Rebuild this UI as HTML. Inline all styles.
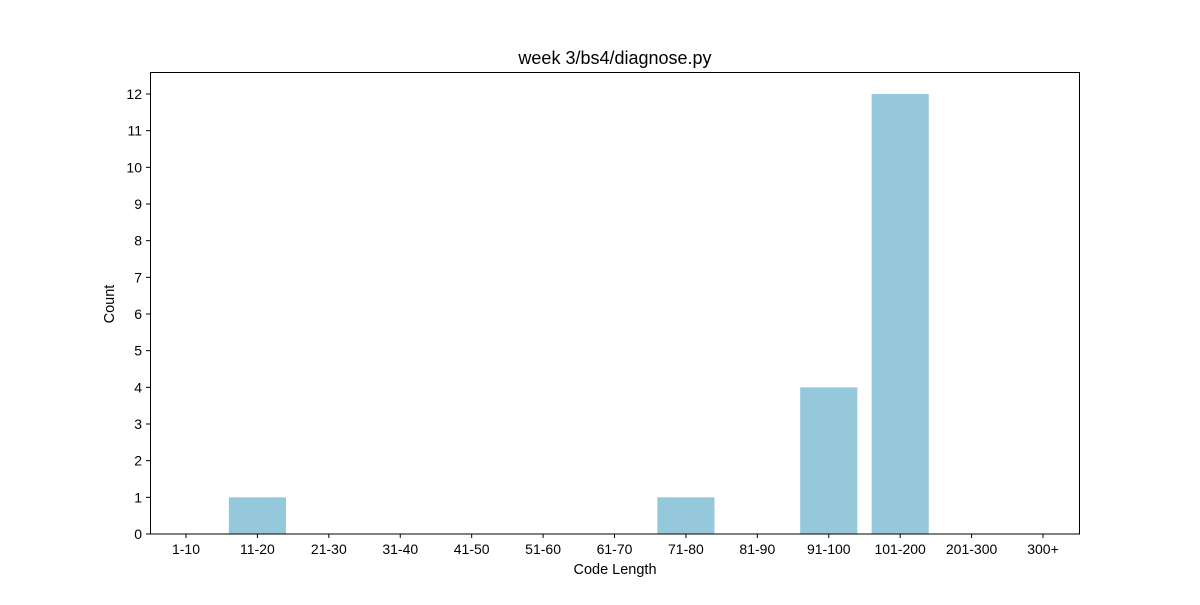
<!DOCTYPE html>
<html>
<head>
<meta charset="utf-8">
<style>
  html,body{margin:0;padding:0;background:#fff;}
  svg text{font-family:"Liberation Sans","DejaVu Sans",sans-serif;fill:#000;}
</style>
</head>
<body>
<svg id="chart" width="1200" height="600" xmlns="http://www.w3.org/2000/svg">
  <rect width="1200" height="600" fill="#fff"/>
  <text x="615" y="64" font-size="18" text-anchor="middle">week 3/bs4/diagnose.py</text>
  <g id="bars"></g>
  <g id="xticks"></g>
  <g id="yticks"></g>
  <rect x="150.5" y="72.5" width="929" height="461.5" fill="none" stroke="#000" stroke-width="1"/>
  <text x="615" y="574" font-size="14.5" text-anchor="middle">Code Length</text>
  <text x="114" y="304" font-size="14.5" text-anchor="middle" transform="rotate(-90 114 304)">Count</text>
</svg>
<script>
const categories = ["1-10","11-20","21-30","31-40","41-50","51-60","61-70","71-80","81-90","91-100","101-200","201-300","300+"];
const counts = [0,1,0,0,0,0,0,1,0,4,12,0,0];
const yTickLabels = [0,1,2,3,4,5,6,7,8,9,10,11,12];

const NS = "http://www.w3.org/2000/svg";
const plotL = 150, plotR = 1080, plotT = 72, plotB = 534;
const yMax = 12.6;
const xMin = -0.504, xMax = 12.518;
function xScale(i){ return plotL + (i - xMin) / (xMax - xMin) * (plotR - plotL); }
function yScale(v){ return plotB - v / yMax * (plotB - plotT); }
const bw = 0.8 * (plotR - plotL) / (xMax - xMin);

const barsG = document.getElementById('bars');
counts.forEach((c, i) => {
  if (c <= 0) return;
  const r = document.createElementNS(NS, 'rect');
  r.setAttribute('x', xScale(i) - bw / 2);
  r.setAttribute('y', yScale(c));
  r.setAttribute('width', bw);
  r.setAttribute('height', yScale(0) - yScale(c));
  r.setAttribute('fill', '#96c8dc');
  
  
  barsG.appendChild(r);
});

const xg = document.getElementById('xticks');
categories.forEach((c, i) => {
  const x = xScale(i);
  const l = document.createElementNS(NS, 'line');
  l.setAttribute('x1', x); l.setAttribute('x2', x);
  l.setAttribute('y1', plotB); l.setAttribute('y2', plotB + 4);
  l.setAttribute('stroke', '#000');
  
  
  xg.appendChild(l);
  const t = document.createElementNS(NS, 'text');
  t.setAttribute('x', x); t.setAttribute('y', plotB + 20);
  t.setAttribute('font-size', '14'); t.setAttribute('text-anchor', 'middle');
  t.textContent = c;
  
  
  xg.appendChild(t);
});

const yg = document.getElementById('yticks');
yTickLabels.forEach(v => {
  const y = yScale(v);
  const l = document.createElementNS(NS, 'line');
  l.setAttribute('x1', plotL - 4); l.setAttribute('x2', plotL);
  l.setAttribute('y1', y); l.setAttribute('y2', y);
  l.setAttribute('stroke', '#000');
  
  
  yg.appendChild(l);
  const t = document.createElementNS(NS, 'text');
  t.setAttribute('x', plotL - 8); t.setAttribute('y', y + 5);
  t.setAttribute('font-size', '14'); t.setAttribute('text-anchor', 'end');
  t.textContent = v;
  
  
  yg.appendChild(t);
});
</script>
</body>
</html>
